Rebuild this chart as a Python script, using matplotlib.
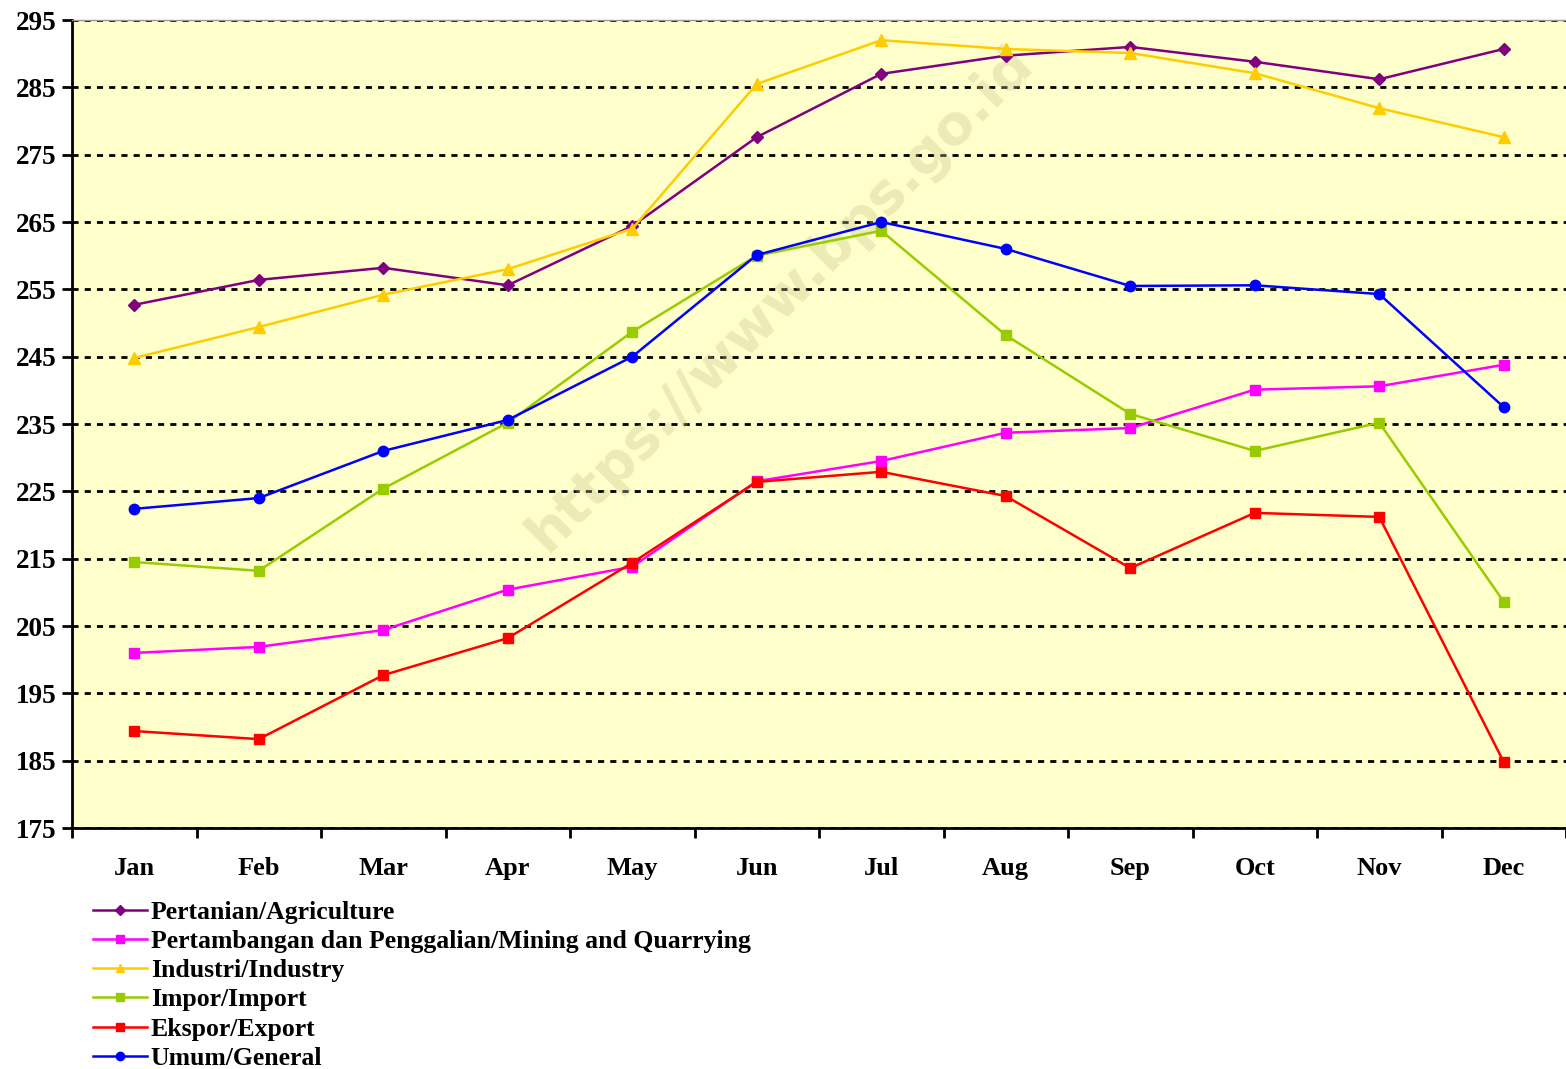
import matplotlib.pyplot as plt
import numpy as np

months = ["Jan", "Feb", "Mar", "Apr", "May", "Jun", "Jul", "Aug", "Sep", "Oct", "Nov", "Dec"]

agriculture = [252.7, 256.4, 258.2, 255.6, 264.4, 277.6, 287.0, 289.7, 291.0, 288.8, 286.2, 290.7]
mining = [201.0, 201.9, 204.4, 210.4, 213.8, 226.5, 229.5, 233.7, 234.4, 240.1, 240.6, 243.8]
industry = [244.8, 249.4, 254.2, 258.0, 264.0, 285.5, 292.0, 290.7, 290.1, 287.1, 281.9, 277.6]
imports = [214.5, 213.2, 225.4, 235.2, 248.7, 260.0, 263.7, 248.2, 236.5, 231.0, 235.2, 208.6]
exports = [189.4, 188.2, 197.7, 203.2, 214.4, 226.4, 227.9, 224.3, 213.6, 221.8, 221.2, 184.8]
general = [222.4, 224.0, 231.0, 235.6, 245.0, 260.1, 265.0, 261.0, 255.5, 255.6, 254.3, 237.5]

series = [
    (agriculture, "Pertanian/Agriculture", "#800080", "D", 6.5),
    (mining, "Pertambangan dan Penggalian/Mining and Quarrying", "#FF00FF", "s", 7.5),
    (industry, "Industri/Industry", "#FFCC00", "^", 8),
    (imports, "Impor/Import", "#99CC00", "s", 7.5),
    (exports, "Ekspor/Export", "#FF0000", "s", 7.5),
    (general, "Umum/General", "#0000FF", "o", 7.5),
]

plt.rcParams['font.family'] = ['Liberation Serif', 'DejaVu Serif']
plt.rcParams['font.weight'] = 'bold'

fig = plt.figure(figsize=(15.66, 10.69), dpi=100)
ax = fig.add_axes([72 / 1566, 1 - 828 / 1069, 1 - 72 / 1566, (828 - 20) / 1069])
ax.set_facecolor("#FFFFCC")

x = np.arange(len(months))
for vals, label, color, marker, ms in series:
    ax.plot(x, vals, color=color, lw=1.8, marker=marker, markersize=ms,
            label=label, zorder=3)

ax.set_xlim(-0.5, len(months) - 0.5)
ax.set_ylim(175, 295)
ax.set_yticks(np.arange(175, 296, 10))
ax.yaxis.grid(True, color="black", linestyle=(0, (2.2, 2.2)), lw=2)
ax.set_axisbelow(True)

ax.set_xticks(x)
ax.set_xticklabels(months)
ax.set_xticks(np.arange(-0.5, len(months), 1), minor=True)
ax.tick_params(axis="x", which="major", length=0, pad=21, labelsize=19)
ax.tick_params(axis="x", which="minor", length=7, width=2, direction="out")
ax.tick_params(axis="y", length=7, width=2, direction="out", labelsize=19.5, pad=4)

for lbl in ax.get_xticklabels() + ax.get_yticklabels():
    lbl.set_fontweight("bold")

ax.spines["right"].set_visible(False)
ax.spines["top"].set_color("#999999")
ax.spines["top"].set_linewidth(1)
ax.spines["left"].set_linewidth(2)
ax.spines["bottom"].set_linewidth(2)

# watermark
ax.text(0.474, 0.655, "https://www.bps.go.id", transform=ax.transAxes,
        rotation=45, fontsize=40, fontweight="bold", family="DejaVu Sans",
        color="#C8C48A", alpha=0.35, ha="center", va="center", zorder=2)

handles, labels = ax.get_legend_handles_labels()
leg = fig.legend(handles, labels, loc="upper left",
                 bbox_to_anchor=(80 / 1566, 1 - 888 / 1069),
                 frameon=False, fontsize=18.5, handlelength=2.1,
                 handletextpad=0.15, labelspacing=0.24, borderpad=0,
                 markerscale=0.8)
for t in leg.get_texts():
    t.set_fontweight("bold")

fig.savefig("out.png", dpi=100, facecolor="white")
